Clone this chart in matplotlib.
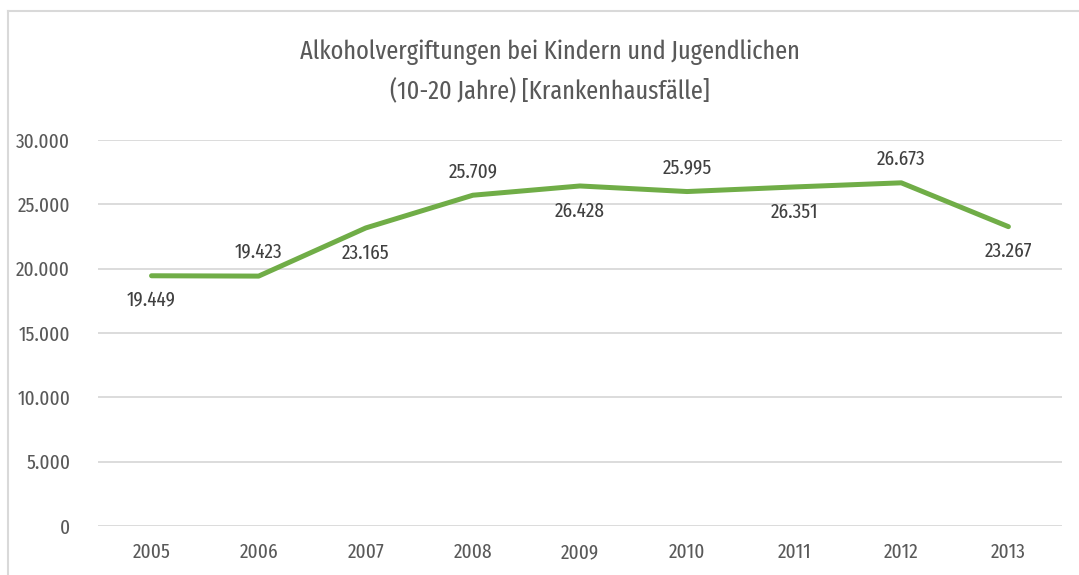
import matplotlib.pyplot as plt

years = ["2005", "2006", "2007", "2008", "2009", "2010", "2011", "2012", "2013"]
faelle = [19449, 19423, 23165, 25709, 26428, 25995, 26351, 26673, 23267]
label_pos = ["below", "above", "below", "above", "below", "above", "below", "above", "below"]
y_ticks = [0, 5000, 10000, 15000, 20000, 25000, 30000]

plt.rcParams['font.family'] = ['Fira Sans Extra Condensed', 'DejaVu Sans']


def de_fmt(v):
    return f"{v:,}".replace(",", ".")


fig = plt.figure(figsize=(10.79, 5.75), dpi=100)
ax = fig.add_axes([0.0908, 0.0852, 0.8934, 0.6713])

x = list(range(len(years)))
ax.plot(x, faelle, color="#70AD47", linewidth=3.6, solid_capstyle="round", solid_joinstyle="round", zorder=3)

for xi, v, pos in zip(x, faelle, label_pos):
    off = 17 if pos == "above" else -18
    ax.annotate(de_fmt(v), (xi, v), xytext=(0, off), textcoords="offset points",
                ha="center", va="center", fontsize=15, color="#404040")

ax.set_xlim(-0.5, len(years) - 0.5)
ax.set_ylim(0, 30000)
ax.set_yticks(y_ticks)
ax.set_yticklabels([de_fmt(t) for t in y_ticks])
ax.set_xticks(x)
ax.set_xticklabels(years)
ax.tick_params(length=0, labelsize=15, labelcolor="#595959")
ax.tick_params(axis="y", pad=20)
ax.tick_params(axis="x", pad=12)
ax.grid(axis="y", color="#D9D9D9", linewidth=1.3)
ax.set_axisbelow(True)
for s in ax.spines.values():
    s.set_visible(False)

fig.text(0.51, 0.91, "Alkoholvergiftungen bei Kindern und Jugendlichen", ha="center", va="center",
         fontsize=19, color="#595959")
fig.text(0.51, 0.84, "(10-20 Jahre) [Krankenhausfälle]", ha="center", va="center",
         fontsize=19, color="#595959")

# chart frame (only top and left visible in the crop)
fig.add_artist(plt.Line2D([8 / 1079, 8 / 1079], [0, 1 - 11 / 575], transform=fig.transFigure,
                          color="#D9D9D9", linewidth=1.5))
fig.add_artist(plt.Line2D([8 / 1079, 1], [1 - 11 / 575, 1 - 11 / 575], transform=fig.transFigure,
                          color="#D9D9D9", linewidth=1.5))

fig.savefig("out.png", dpi=100)
